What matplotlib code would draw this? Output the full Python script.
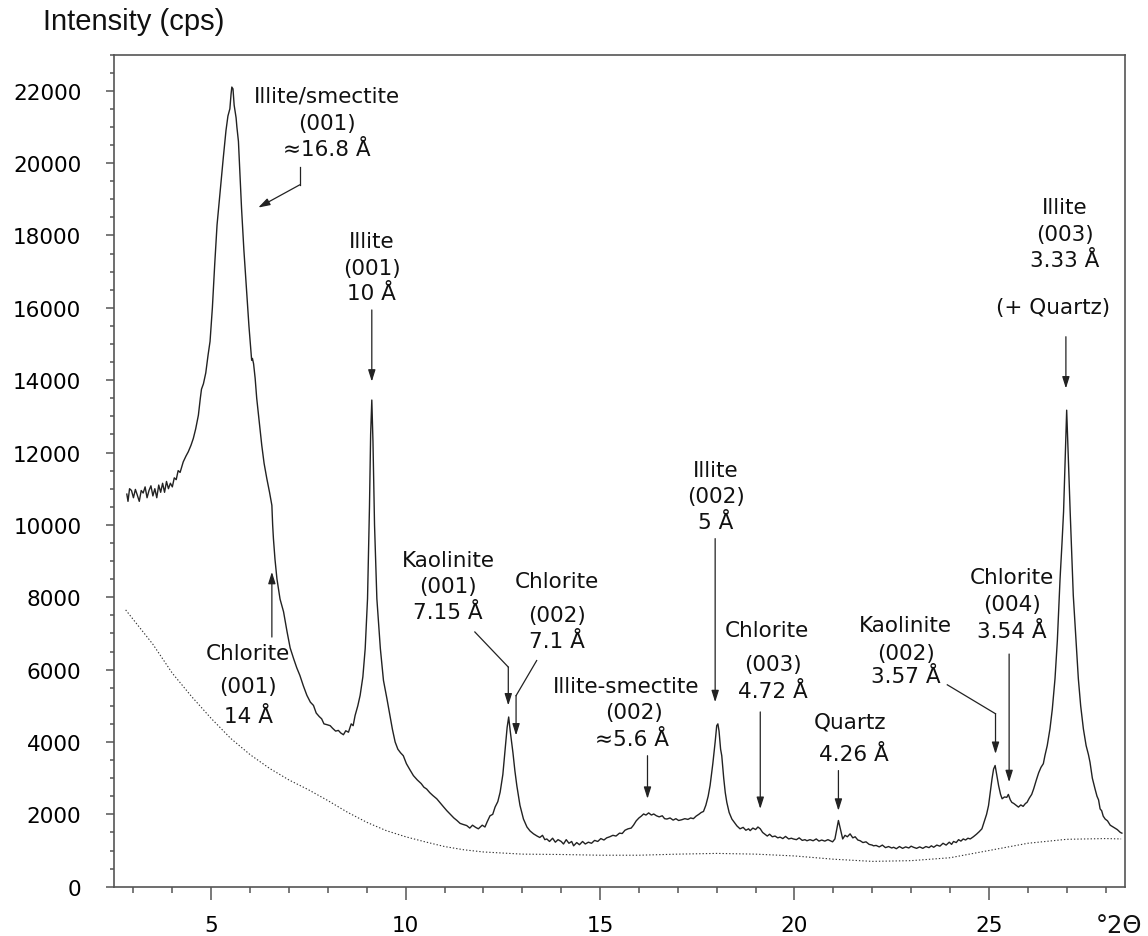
import matplotlib.pyplot as plt
import numpy as np

# measured XRD pattern (degrees 2-theta, counts per second)
two_theta = [2.83, 2.86, 2.90, 2.95, 3.00, 3.05, 3.10, 3.15, 3.20, 3.25, 3.30, 3.35, 3.40, 3.45, 3.50,
             3.55, 3.60, 3.65, 3.70, 3.75, 3.80, 3.85, 3.90, 3.95, 4.00, 4.05, 4.10, 4.15, 4.20, 4.28,
             4.35, 4.41, 4.48, 4.54, 4.60, 4.67, 4.72, 4.75, 4.80, 4.86, 4.92, 4.97, 5.03, 5.09, 5.15,
             5.22, 5.31, 5.38, 5.43, 5.48, 5.51, 5.53, 5.56, 5.59, 5.62, 5.64, 5.66, 5.70, 5.74, 5.78,
             5.84, 5.91, 5.97, 6.04, 6.06, 6.09, 6.13, 6.17, 6.23, 6.30, 6.36, 6.43, 6.50, 6.56, 6.58,
             6.60, 6.64, 6.69, 6.77, 6.86, 6.95, 7.03, 7.12, 7.20, 7.28, 7.37, 7.46, 7.55, 7.63, 7.70,
             7.78, 7.84, 7.90, 7.97, 8.06, 8.12, 8.20, 8.27, 8.33, 8.40, 8.46, 8.53, 8.60, 8.65, 8.70,
             8.77, 8.83, 8.90, 8.96, 9.02, 9.07, 9.10, 9.13, 9.16, 9.20, 9.26, 9.35, 9.43, 9.52, 9.60,
             9.66, 9.73, 9.80, 9.87, 9.94, 10.02, 10.10, 10.20, 10.30, 10.40, 10.47, 10.54, 10.62, 10.70, 10.80,
             10.90, 10.98, 11.06, 11.15, 11.24, 11.32, 11.40, 11.48, 11.57, 11.65, 11.72, 11.80, 11.87, 11.91, 11.97,
             12.04, 12.10, 12.17, 12.24, 12.30, 12.37, 12.43, 12.50, 12.56, 12.61, 12.65, 12.69, 12.73, 12.76, 12.81,
             12.86, 12.94, 13.03, 13.12, 13.20, 13.29, 13.38, 13.45, 13.52, 13.58, 13.63, 13.70, 13.78, 13.85, 13.92,
             14.00, 14.06, 14.13, 14.20, 14.27, 14.32, 14.40, 14.47, 14.55, 14.62, 14.70, 14.78, 14.86, 14.94, 15.02,
             15.10, 15.17, 15.25, 15.33, 15.41, 15.50, 15.57, 15.64, 15.72, 15.80, 15.86, 15.93, 16.00, 16.06, 16.12,
             16.18, 16.25, 16.32, 16.38, 16.45, 16.52, 16.60, 16.66, 16.72, 16.80, 16.88, 16.95, 17.02, 17.10, 17.18,
             17.26, 17.33, 17.40, 17.47, 17.54, 17.60, 17.66, 17.72, 17.78, 17.83, 17.90, 17.96, 18.00, 18.03, 18.06,
             18.10, 18.13, 18.18, 18.22, 18.26, 18.32, 18.39, 18.45, 18.52, 18.60, 18.68, 18.75, 18.82, 18.86, 18.93,
             19.00, 19.06, 19.12, 19.18, 19.24, 19.30, 19.36, 19.43, 19.50, 19.57, 19.63, 19.70, 19.77, 19.85, 19.92,
             19.97, 20.05, 20.12, 20.20, 20.27, 20.32, 20.40, 20.48, 20.56, 20.63, 20.70, 20.78, 20.86, 20.92, 20.98,
             21.04, 21.08, 21.13, 21.18, 21.24, 21.30, 21.36, 21.43, 21.50, 21.56, 21.63, 21.69, 21.76, 21.84, 21.92,
             22.00, 22.03, 22.10, 22.18, 22.26, 22.34, 22.42, 22.50, 22.55, 22.62, 22.70, 22.78, 22.86, 22.94, 23.00,
             23.06, 23.14, 23.22, 23.30, 23.38, 23.46, 23.52, 23.58, 23.66, 23.74, 23.82, 23.90, 23.98, 24.04, 24.09,
             24.16, 24.22, 24.28, 24.34, 24.40, 24.46, 24.52, 24.60, 24.68, 24.75, 24.82, 24.88, 24.94, 24.99, 25.04,
             25.08, 25.12, 25.16, 25.20, 25.25, 25.30, 25.34, 25.40, 25.46, 25.50, 25.55, 25.59, 25.64, 25.70, 25.76,
             25.82, 25.88, 25.94, 25.98, 26.04, 26.10, 26.15, 26.22, 26.28, 26.34, 26.40, 26.44, 26.50, 26.57, 26.63,
             26.70, 26.76, 26.83, 26.88, 26.92, 26.96, 27.00, 27.04, 27.09, 27.13, 27.17, 27.24, 27.30, 27.36, 27.43,
             27.50, 27.56, 27.60, 27.66, 27.73, 27.78, 27.82, 27.86, 27.90, 27.94, 27.99, 28.05, 28.12, 28.21, 28.30,
             28.38, 28.42]
intensity = [10850, 10650, 11000, 10950, 10750, 10980, 10820, 10650, 10950, 10880, 11050, 10750, 10950, 11080, 10800,
             11000, 10750, 11100, 10900, 11150, 10900, 11200, 11000, 11150, 11050, 11300, 11250, 11500, 11450, 11740,
             11900, 12020, 12200, 12390, 12650, 13030, 13500, 13750, 13900, 14200, 14700, 15070, 16000, 17200, 18290,
             19100, 20140, 20900, 21300, 21500, 21900, 22100, 22050, 21600, 21400, 21250, 21000, 20600, 19700, 18750,
             17600, 16450, 15500, 14550, 14600, 14450, 14050, 13500, 12900, 12200, 11700, 11280, 10900, 10540, 10000,
             9620, 9050, 8510, 7950, 7600, 7050, 6600, 6300, 6050, 5840, 5550, 5290, 5100, 5010, 4800,
             4700, 4640, 4500, 4480, 4450, 4380, 4300, 4320, 4250, 4200, 4310, 4270, 4500, 4450, 4730,
             5000, 5290, 5800, 6580, 7960, 10500, 12500, 13450, 12300, 10000, 7960, 6580, 5700, 5190, 4700,
             4350, 4000, 3800, 3700, 3620, 3400, 3250, 3070, 2950, 2850, 2750, 2700, 2600, 2520, 2430,
             2300, 2200, 2100, 2000, 1900, 1830, 1750, 1720, 1690, 1620, 1700, 1640, 1600, 1640, 1700,
             1650, 1800, 1960, 2000, 2200, 2350, 2610, 3100, 3810, 4400, 4690, 4300, 3950, 3700, 3200,
             2790, 2250, 1870, 1650, 1540, 1460, 1400, 1360, 1420, 1300, 1320, 1250, 1340, 1230, 1300,
             1250, 1180, 1300, 1200, 1250, 1130, 1220, 1160, 1250, 1180, 1230, 1200, 1280, 1250, 1330,
             1290, 1350, 1380, 1420, 1400, 1480, 1470, 1560, 1600, 1620, 1700, 1820, 1900, 1950, 2010,
             1980, 2040, 1980, 2010, 1960, 1930, 1960, 1880, 1870, 1900, 1840, 1880, 1830, 1850, 1880,
             1860, 1900, 1880, 1950, 2000, 2050, 2080, 2250, 2500, 2800, 3400, 4000, 4450, 4500, 4300,
             3800, 3620, 3000, 2600, 2330, 2050, 1870, 1780, 1680, 1600, 1640, 1560, 1600, 1550, 1620,
             1580, 1650, 1600, 1500, 1450, 1400, 1450, 1380, 1400, 1350, 1370, 1330, 1390, 1320, 1340,
             1320, 1300, 1350, 1280, 1300, 1270, 1300, 1270, 1320, 1260, 1290, 1260, 1300, 1270, 1240,
             1320, 1550, 1830, 1600, 1320, 1420, 1380, 1460, 1350, 1380, 1290, 1270, 1220, 1240, 1170,
             1150, 1130, 1140, 1100, 1150, 1080, 1110, 1070, 1090, 1050, 1110, 1060, 1100, 1070, 1120,
             1090, 1060, 1100, 1060, 1110, 1080, 1130, 1090, 1150, 1120, 1200, 1150, 1230, 1170, 1250,
             1220, 1300, 1260, 1320, 1290, 1340, 1320, 1380, 1450, 1520, 1600, 1800, 2000, 2240, 2650,
             2980, 3250, 3350, 3100, 2790, 2550, 2430, 2480, 2470, 2550, 2400, 2330, 2300, 2250, 2200,
             2260, 2220, 2300, 2330, 2450, 2550, 2700, 2950, 3150, 3300, 3400, 3620, 3900, 4360, 4900,
             5750, 6800, 8510, 9500, 10360, 11800, 13170, 11900, 10360, 9200, 8050, 6800, 5750, 5000, 4360,
             3900, 3650, 3440, 3000, 2700, 2500, 2400, 2150, 2100, 1950, 1870, 1820, 1700, 1640, 1580,
             1500, 1480]

# background curve (dotted)
bg_theta = [2.8, 3.5, 4.0, 4.5, 5.0, 5.5, 6.0, 6.5, 7.0, 7.5, 8.0, 8.5, 9.0, 9.5, 10.0,
            10.5, 11.0, 11.5, 12.0, 13.0, 14.0, 15.0, 16.0, 17.0, 18.0, 19.0, 20.0, 21.0, 22.0, 23.0,
            24.0, 25.0, 26.0, 27.0, 28.0, 28.4]
bg_intensity = [7650, 6700, 5900, 5250, 4650, 4100, 3650, 3270, 2950, 2680, 2380, 2060, 1780, 1550, 1380,
                1240, 1110, 1020, 960, 900, 890, 870, 870, 900, 920, 900, 850, 760, 700, 720,
                800, 1000, 1200, 1310, 1330, 1320]

# peak labels: one entry per text line (text, x, baseline y)
labels = [
    ("Illite/smectite", 7.97, 21700), ("(001)", 7.97, 20940), ("\u224816.8 \u00c5", 7.97, 20220),
    ("Illite", 9.13, 17690), ("(001)", 9.13, 16930), ("10 \u00c5", 9.13, 16230),
    ("Chlorite", 5.95, 6290), ("(001)", 5.95, 5390), ("14 \u00c5", 5.95, 4560),
    ("Kaolinite", 11.09, 8870), ("(001)", 11.09, 8140), ("7.15 \u00c5", 11.09, 7420),
    ("Chlorite", 13.89, 8280), ("(002)", 13.89, 7330), ("7.1 \u00c5", 13.89, 6620),
    ("Illite-smectite", 15.67, 5380), ("(002)", 15.87, 4660), ("\u22485.6 \u00c5", 15.82, 3920),
    ("Illite", 17.98, 11350), ("(002)", 17.98, 10620), ("5 \u00c5", 17.98, 9910),
    ("Chlorite", 19.29, 6930), ("(003)", 19.44, 5980), ("4.72 \u00c5", 19.44, 5240),
    ("Quartz", 21.43, 4410), ("4.26 \u00c5", 21.52, 3490),
    ("Kaolinite", 22.86, 7080), ("(002)", 22.86, 6300), ("3.57 \u00c5", 22.86, 5660),
    ("Chlorite", 25.59, 8380), ("(004)", 25.59, 7640), ("3.54 \u00c5", 25.59, 6900),
    ("Illite", 26.96, 18610), ("(003)", 26.96, 17870), ("3.33 \u00c5", 26.96, 17160),
    ("(+ Quartz)", 26.66, 15850),
]

# arrow paths, last point is the arrow head
arrows = [
    [(7.28, 19900), (7.28, 19400), (6.21, 18770)],
    [(9.13, 15940), (9.13, 13960)],
    [(6.56, 6900), (6.56, 8700)],
    [(11.78, 7040), (12.64, 6070), (12.64, 5010)],
    [(13.37, 6250), (12.84, 5280), (12.84, 4180)],
    [(16.22, 3620), (16.22, 2430)],
    [(17.96, 9620), (17.96, 5100)],
    [(19.12, 4830), (19.12, 2150)],
    [(21.13, 3210), (21.13, 2100)],
    [(23.93, 5580), (25.17, 4780), (25.17, 3670)],
    [(25.52, 6430), (25.52, 2890)],
    [(26.98, 15200), (26.98, 13770)],
]

fig = plt.figure(figsize=(11.48, 9.37), dpi=100)
ax = fig.add_axes([114 / 1148, 49.3 / 937, 1011 / 1148, 832.2 / 937])

ink = '#222222'
ax.plot(two_theta, intensity, color=ink, lw=1.0)
ax.plot(bg_theta, bg_intensity, color='#333333', lw=0.8, linestyle=(0, (1.2, 1.8)))

for s, x, y in labels:
    ax.text(x, y, s, ha='center', va='baseline', fontsize=15.5, color='#111111')

for path in arrows:
    if len(path) > 2:
        xs = [p[0] for p in path[:-1]]
        ys = [p[1] for p in path[:-1]]
        ax.plot(xs, ys, color=ink, lw=0.9)
    ax.annotate('', xy=path[-1], xytext=path[-2],
                arrowprops=dict(arrowstyle='-|>,head_length=0.7,head_width=0.22',
                                color=ink, lw=0.9, mutation_scale=10,
                                shrinkA=0, shrinkB=0))

# axes and ticks
ax.set_xlim(2.5, 28.5)
ax.set_ylim(0, 23000)
ax.set_xticks([5, 10, 15, 20, 25])
ax.set_xticks(np.arange(3, 29, 1), minor=True)
ax.set_yticks(np.arange(0, 22001, 2000))
ax.set_yticks(np.arange(0, 23001, 500), minor=True)
for sp in ax.spines.values():
    sp.set_color('#555555')
    sp.set_linewidth(1.2)
ax.tick_params(axis='x', which='major', length=9.4, width=1.1, color='#555555', pad=11, labelsize=15.5)
ax.tick_params(axis='x', which='minor', length=4.6, width=1.1, color='#555555')
ax.tick_params(axis='y', which='major', length=6, width=1.1, color='#555555', pad=17.5, labelsize=15.5)
ax.tick_params(axis='y', which='minor', length=3, width=1.1, color='#555555')

fig.text(43 / 1148, 1 - 30 / 937, 'Intensity (cps)', fontsize=21, family='Liberation Sans',
         ha='left', va='baseline', color='#111111')
fig.text(1119 / 1148, 1 - 932.7 / 937, '\u00b02\u0398', fontsize=17.5, ha='center', va='baseline',
         color='#111111')

plt.savefig('out.png', dpi=100)
